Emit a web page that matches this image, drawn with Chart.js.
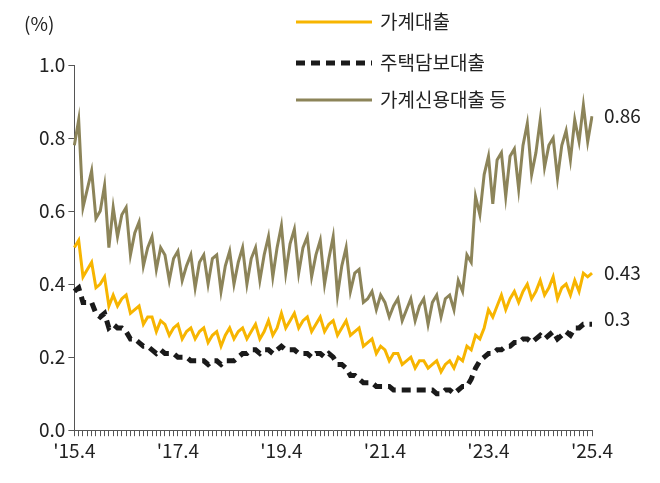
<!DOCTYPE html>
<html>
<head>
<meta charset="utf-8">
<script src="https://cdn.jsdelivr.net/npm/chart.js@4"></script>
<style>
  body { margin: 0; background: #fff; }
  #wrap { width: 660px; height: 483px; }
</style>
</head>
<body>
<div id="wrap"><canvas id="grafica"></canvas></div>
<script>
// monthly, '15.4 ~ '25.4
const meses = [];
for (let a = 2015; a <= 2025; a++) {
  for (let m = 1; m <= 12; m++) {
    if ((a === 2015 && m < 4) || (a === 2025 && m > 4)) continue;
    meses.push(m === 4 && (a - 2015) % 2 === 0 ? "'" + String(a).slice(2) + ".4" : "");
  }
}

const gaGye = [
  0.50,0.52,0.42,0.44,0.46,0.39,0.40,0.42,0.34,
  0.37,0.34,0.36,0.37,0.32,0.33,0.34,0.29,0.31,0.31,0.27,0.30,
  0.29,0.26,0.28,0.29,0.25,0.27,0.28,0.25,0.27,0.28,0.24,0.26,
  0.27,0.23,0.26,0.28,0.25,0.27,0.28,0.25,0.27,0.29,0.25,0.27,
  0.30,0.26,0.28,0.32,0.28,0.30,0.32,0.28,0.30,0.31,0.27,0.29,
  0.31,0.27,0.29,0.30,0.26,0.28,0.30,0.26,0.27,0.28,0.23,0.24,
  0.25,0.21,0.23,0.22,0.19,0.21,0.21,0.18,0.19,0.20,0.17,0.19,
  0.19,0.17,0.18,0.19,0.16,0.18,0.19,0.17,0.20,0.19,0.23,0.22,
  0.26,0.25,0.28,0.33,0.31,0.34,0.37,0.33,0.36,0.38,0.35,0.38,
  0.40,0.36,0.38,0.41,0.37,0.39,0.42,0.36,0.39,0.40,0.37,0.41,
  0.38,0.43,0.42,0.43
];

const juTaek = [
  0.38,0.39,0.35,0.35,0.35,0.32,0.31,0.32,0.28,
  0.29,0.28,0.28,0.27,0.25,0.25,0.24,0.23,0.23,0.22,0.21,0.22,
  0.21,0.21,0.21,0.20,0.20,0.20,0.19,0.19,0.19,0.19,0.18,0.19,
  0.19,0.18,0.19,0.19,0.19,0.20,0.21,0.21,0.22,0.22,0.21,0.22,
  0.22,0.21,0.22,0.23,0.22,0.22,0.22,0.21,0.21,0.21,0.20,0.21,
  0.21,0.20,0.21,0.20,0.18,0.18,0.17,0.15,0.15,0.14,0.13,0.13,
  0.13,0.12,0.12,0.12,0.12,0.11,0.11,0.11,0.11,0.11,0.11,0.11,
  0.11,0.11,0.11,0.10,0.10,0.11,0.11,0.10,0.11,0.12,0.12,0.14,
  0.17,0.19,0.20,0.21,0.21,0.22,0.22,0.23,0.23,0.24,0.24,0.25,
  0.25,0.24,0.25,0.26,0.25,0.26,0.27,0.25,0.26,0.27,0.26,0.28,
  0.28,0.29,0.29,0.29
];

const sinYong = [
  0.78,0.85,0.61,0.66,0.71,0.58,0.60,0.67,0.50,
  0.61,0.53,0.59,0.61,0.48,0.54,0.57,0.45,0.50,0.53,0.44,0.50,
  0.48,0.41,0.47,0.49,0.41,0.45,0.48,0.39,0.46,0.48,0.40,0.47,
  0.48,0.38,0.45,0.49,0.40,0.46,0.50,0.40,0.47,0.50,0.41,0.48,
  0.53,0.42,0.50,0.56,0.43,0.51,0.55,0.43,0.50,0.53,0.42,0.48,
  0.52,0.40,0.47,0.53,0.37,0.45,0.50,0.38,0.43,0.44,0.35,0.36,
  0.38,0.33,0.37,0.35,0.31,0.34,0.36,0.30,0.33,0.36,0.30,0.34,
  0.36,0.29,0.35,0.37,0.31,0.36,0.37,0.33,0.41,0.38,0.48,0.46,
  0.64,0.59,0.70,0.75,0.62,0.74,0.76,0.64,0.75,0.77,0.66,0.78,
  0.84,0.70,0.76,0.85,0.72,0.78,0.80,0.69,0.78,0.82,0.74,0.85,
  0.79,0.89,0.79,0.86
];

const ticksY = [0, 0.2, 0.4, 0.6, 0.8, 1.0];
const etiquetasFin = ["0.43", "0.3", "0.86"];

const fuente = "'Noto Sans CJK KR', 'Noto Sans', sans-serif";
const seriesDef = [
  { label: '가계대출', data: gaGye, color: '#f7b500', dash: [], width: 3 },
  { label: '주택담보대출', data: juTaek, color: '#1a1a1a', dash: [9, 6], width: 5 },
  { label: '가계신용대출 등', data: sinYong, color: '#8c8459', dash: [], width: 3 }
];

const extras = {
  id: 'extras',
  afterDraw(chart) {
    const ctx = chart.ctx;
    const x = chart.scales.x, y = chart.scales.y;
    ctx.save();
    ctx.fillStyle = '#222';
    ctx.font = '19px ' + fuente;
    ctx.textBaseline = 'middle';
    ctx.textAlign = 'left';
    ctx.fillText('(%)', 24, 24);
    // end labels
    chart.data.datasets.forEach((ds, i) => {
      const n = ds.data.length - 1;
      let py = y.getPixelForValue(ds.data[n]);
      if (i === 1) py -= 6;
      ctx.fillText(etiquetasFin[i], x.getPixelForValue(n) + 12, py);
    });
    // legend
    const lx = 296, ly = [22, 63, 100];
    chart.data.datasets.forEach((ds, i) => {
      ctx.strokeStyle = ds.borderColor;
      ctx.lineWidth = ds.borderWidth;
      ctx.setLineDash(ds.borderDash || []);
      ctx.beginPath();
      ctx.moveTo(lx, ly[i]); ctx.lineTo(lx + 76, ly[i]);
      ctx.stroke();
      ctx.setLineDash([]);
      ctx.fillStyle = '#222';
      ctx.fillText(ds.label, lx + 84, ly[i]);
    });
    ctx.restore();
  }
};

new Chart(document.getElementById('grafica'), {
  type: 'line',
  data: {
    labels: meses,
    datasets: seriesDef.map(s => ({
      label: s.label, data: s.data, borderColor: s.color, borderDash: s.dash,
      borderWidth: s.width, pointRadius: 0, tension: 0, fill: false
    }))
  },
  options: {
    responsive: true,
    maintainAspectRatio: false,
    animation: false,
    layout: { padding: { top: 65, right: 68, left: 36, bottom: 18 } },
    plugins: { legend: { display: false }, tooltip: { enabled: false } },
    scales: {
      x: {
        grid: { display: true, drawOnChartArea: false, tickLength: 6, color: '#555' },
        border: { color: '#555' },
        ticks: { autoSkip: false, maxRotation: 0, color: '#222', font: { size: 19, family: fuente },
          callback: (v, i) => meses[i] }
      },
      y: {
        min: 0, max: 1,
        afterBuildTicks: ax => { ax.ticks = ticksY.map(v => ({ value: v })); },
        grid: { display: true, drawOnChartArea: false, tickLength: 6, color: '#555' },
        border: { color: '#555' },
        ticks: { color: '#222', font: { size: 19, family: fuente }, callback: v => v.toFixed(1) }
      }
    }
  },
  plugins: [extras]
});
</script>
</body>
</html>
